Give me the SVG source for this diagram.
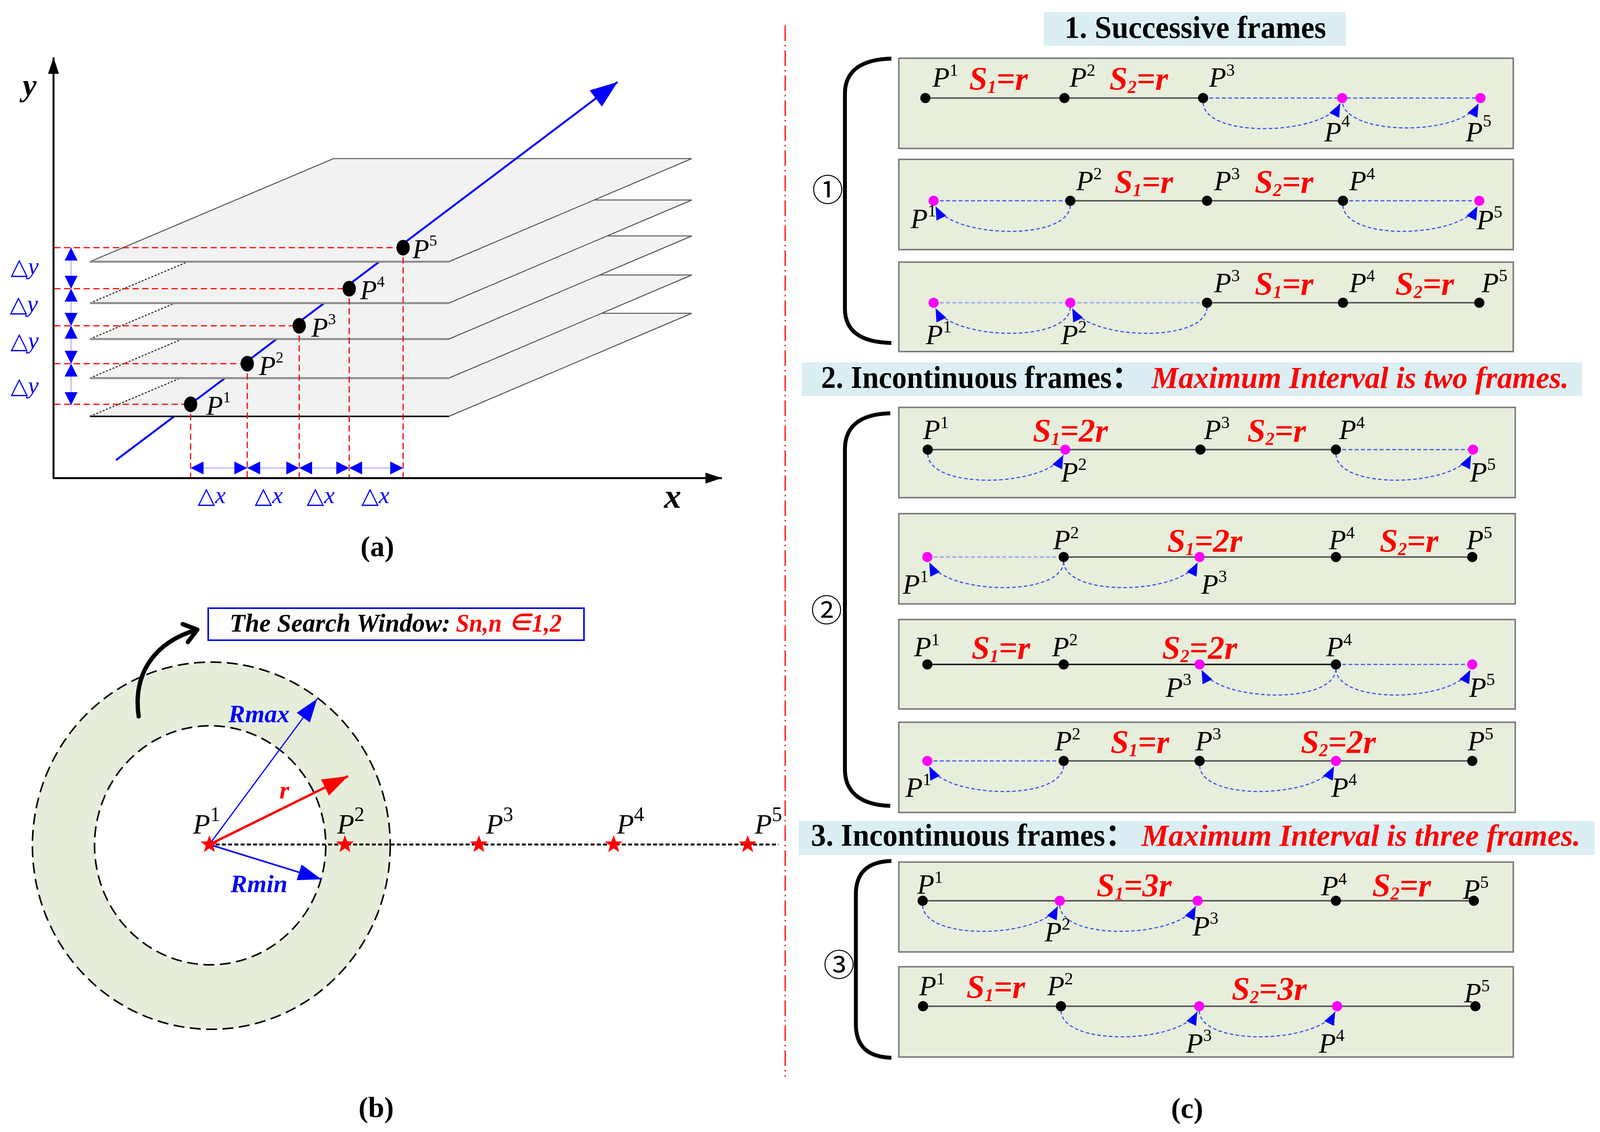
<svg xmlns="http://www.w3.org/2000/svg" width="4098" height="2898" viewBox="0 0 4098 2898">
<style>
text{font-family:"Liberation Serif","Noto Sans CJK SC",serif}
.plane{fill:#f2f2f2;stroke:none}
.pedge{stroke:#555;stroke-width:2.5;fill:none}
.pleft{stroke:#333;stroke-width:3;stroke-dasharray:5 4;fill:none}
.pfront{stroke:#8c8c8c;stroke-width:5}
.bl{stroke:#0000ff;stroke-width:5;fill:none}
.rd{stroke:#ff0000;stroke-width:3;stroke-dasharray:16 9;fill:none}
.dd{stroke:#c4c4ff;stroke-width:4;marker-start:url(#bh);marker-end:url(#bh)}
.dl{fill:#0000ff;font-style:italic;font-size:62px}
.tri{font-family:"DejaVu Sans",sans-serif;font-size:58px;font-style:italic}
.pa{font-style:italic;font-size:70px}
.supa{font-style:normal;font-size:40px}
.pl{font-style:italic;font-size:72px}
.sup{font-style:normal;font-size:44px}
.supb{font-style:normal;font-size:52px}
.sl{font-style:italic;font-weight:bold;font-size:84px;fill:#ff0000}
.box{fill:#e8eedc;stroke:#7f7f7f;stroke-width:4}
.hdr{fill:#daeef3}
.ln{stroke:#5a5a5a;stroke-width:4}
.ln2{stroke:#222;stroke-width:4}
.bd{stroke:#3a55ff;stroke-width:3;stroke-dasharray:10 6;fill:none}
.bdl{stroke:#9fb0f0;stroke-width:4;stroke-dasharray:10 6;fill:none}
.arc{stroke:#3a55ee;stroke-width:3;stroke-dasharray:9 6;fill:none;marker-end:url(#ah)}
.dk{fill:#000}
.mg{fill:#ff00ff}
.brk{stroke:#000;stroke-width:10;fill:none}
.cn{font-family:"Noto Sans CJK SC","DejaVu Sans",sans-serif;font-size:80px}
.ttl{font-weight:bold;font-size:80px}
.tred{font-weight:bold;font-style:italic;font-size:78px;fill:#ff0000}
.cap{font-weight:bold;font-size:74px}
</style>
<defs>
<marker id="ah" viewBox="0 0 34 28" refX="34" refY="14" markerWidth="34" markerHeight="28" markerUnits="userSpaceOnUse" orient="auto"><path d="M0,0 L34,14 L0,28 z" fill="#0000ff"/></marker>
<marker id="bh" viewBox="0 0 33 33" refX="33" refY="16.5" markerWidth="33" markerHeight="33" markerUnits="userSpaceOnUse" orient="auto-start-reverse"><path d="M0,0 L33,16.5 L0,33 z" fill="#0000ff"/></marker>
<marker id="bm" viewBox="0 0 70 52" refX="70" refY="26" markerWidth="70" markerHeight="52" markerUnits="userSpaceOnUse" orient="auto"><path d="M0,0 L70,26 L0,52 z" fill="#0000ff"/></marker>
<marker id="ak" viewBox="0 0 42 28" refX="42" refY="14" markerWidth="42" markerHeight="28" markerUnits="userSpaceOnUse" orient="auto"><path d="M0,0 L42,14 L0,28 z" fill="#000"/></marker>
<marker id="bb" viewBox="0 0 60 42" refX="60" refY="21" markerWidth="60" markerHeight="42" markerUnits="userSpaceOnUse" orient="auto"><path d="M0,0 L60,21 L0,42 z" fill="#0000ff"/></marker>
<marker id="rb" viewBox="0 0 66 46" refX="66" refY="23" markerWidth="66" markerHeight="46" markerUnits="userSpaceOnUse" orient="auto"><path d="M0,0 L66,23 L0,46 z" fill="#ff0000"/></marker>
<marker id="chev" viewBox="-40 -30 46 60" refX="0" refY="0" markerWidth="46" markerHeight="60" markerUnits="userSpaceOnUse" orient="auto"><path d="M-32,-24 L0,0 L-32,24" fill="none" stroke="#000" stroke-width="11" stroke-linecap="round" stroke-linejoin="round"/></marker>
<polygon id="star" points="0,-24 5.8,-7.9 22.8,-7.4 9.3,3 14.1,19.4 0,9.8 -14.1,19.4 -9.3,3 -22.8,-7.4 -5.8,-7.9" fill="#ff0000"/>
</defs>
<rect width="4098" height="2898" fill="#fff"/>

<!-- ============ Panel (a) ============ -->
<g id="panel-a">
 <g id="axes">
  <line x1="137" y1="1224" x2="137" y2="147" stroke="#000" stroke-width="5" marker-end="url(#ak)"/>
  <line x1="135" y1="1224" x2="1848" y2="1224" stroke="#000" stroke-width="5" marker-end="url(#ak)"/>
  <text x="58" y="245" font-style="italic" font-weight="bold" font-size="80">y</text>
  <text x="1700" y="1300" font-style="italic" font-weight="bold" font-size="88">x</text>
 </g>
 <g id="planes">
  <line class="bl" x1="297" y1="1178" x2="446" y2="1066"/>
  <g id="plane-5"><polygon class="plane" points="230,1066 1149,1066 1771,802 854,802"/><polyline class="pedge" points="1149,1066 1771,802 854,802"/><line class="pleft" x1="230" y1="1066" x2="854" y2="802"/><line x1="230" y1="1066" x2="1149" y2="1066" stroke="#000" stroke-width="4"/></g>
  <line class="bl" x1="488" y1="1034" x2="576" y2="968"/>
  <g id="plane-4"><polygon class="plane" points="230,968 1149,968 1771,704 854,704"/><polyline class="pedge" points="1149,968 1771,704 854,704"/><line class="pleft" x1="230" y1="968" x2="854" y2="704"/><line class="pfront" x1="230" y1="968" x2="1149" y2="968"/></g>
  <line class="bl" x1="633" y1="925" x2="708" y2="868"/>
  <g id="plane-3"><polygon class="plane" points="230,868 1149,868 1771,604 854,604"/><polyline class="pedge" points="1149,868 1771,604 854,604"/><line class="pleft" x1="230" y1="868" x2="854" y2="604"/><line class="pfront" x1="230" y1="868" x2="1149" y2="868"/></g>
  <line class="bl" x1="766" y1="824" x2="830" y2="776"/>
  <g id="plane-2"><polygon class="plane" points="230,776 1149,776 1771,512 854,512"/><polyline class="pedge" points="1149,776 1771,512 854,512"/><line class="pleft" x1="230" y1="776" x2="854" y2="512"/><line class="pfront" x1="230" y1="776" x2="1149" y2="776"/></g>
  <line class="bl" x1="894" y1="728" x2="971" y2="670"/>
  <g id="plane-1"><polygon class="plane" points="230,670 1149,670 1771,406 854,406"/><polyline class="pedge" points="1149,670 1771,406 854,406 230,670"/><line class="pfront" x1="230" y1="670" x2="1149" y2="670"/></g>
  <line class="bl" x1="1032" y1="624" x2="1581" y2="210" marker-end="url(#bm)"/>
 </g>
 <g id="projections">
  <line class="rd" x1="139" y1="1035" x2="488" y2="1035"/>
  <line class="rd" x1="139" y1="931" x2="633" y2="931"/>
  <line class="rd" x1="139" y1="834" x2="766" y2="834"/>
  <line class="rd" x1="139" y1="739" x2="894" y2="739"/>
  <line class="rd" x1="139" y1="634" x2="1032" y2="634"/>
  <line class="rd" x1="488" y1="1035" x2="488" y2="1222"/>
  <line class="rd" x1="633" y1="931" x2="633" y2="1222"/>
  <line class="rd" x1="766" y1="834" x2="766" y2="1222"/>
  <line class="rd" x1="894" y1="739" x2="894" y2="1222"/>
  <line class="rd" x1="1032" y1="634" x2="1032" y2="1222"/>
 </g>
 <g id="dy-arrows">
  <line class="dd" x1="182" y1="634" x2="182" y2="739"/>
  <line class="dd" x1="182" y1="739" x2="182" y2="834"/>
  <line class="dd" x1="182" y1="834" x2="182" y2="931"/>
  <line class="dd" x1="182" y1="931" x2="182" y2="1037"/>
  <text class="dl" x="27" y="702"><tspan class="tri">△</tspan>y</text>
  <text class="dl" x="25" y="798"><tspan class="tri">△</tspan>y</text>
  <text class="dl" x="27" y="892"><tspan class="tri">△</tspan>y</text>
  <text class="dl" x="27" y="1007"><tspan class="tri">△</tspan>y</text>
 </g>
 <g id="dx-arrows">
  <line class="dd" x1="488" y1="1198" x2="633" y2="1198"/>
  <line class="dd" x1="633" y1="1198" x2="766" y2="1198"/>
  <line class="dd" x1="766" y1="1198" x2="894" y2="1198"/>
  <line class="dd" x1="894" y1="1198" x2="1032" y2="1198"/>
  <text class="dl" x="506" y="1288"><tspan class="tri">△</tspan>x</text>
  <text class="dl" x="652" y="1288"><tspan class="tri">△</tspan>x</text>
  <text class="dl" x="785" y="1288"><tspan class="tri">△</tspan>x</text>
  <text class="dl" x="925" y="1288"><tspan class="tri">△</tspan>x</text>
 </g>
 <g id="points-a">
  <ellipse cx="488" cy="1035" rx="17" ry="20"/>
  <ellipse cx="633" cy="931" rx="17" ry="20"/>
  <ellipse cx="766" cy="834" rx="17" ry="20"/>
  <ellipse cx="894" cy="739" rx="17" ry="20"/>
  <ellipse cx="1032" cy="634" rx="17" ry="20"/>
  <text class="pa" x="528" y="1062">P<tspan class="supa" dy="-32">1</tspan></text>
  <text class="pa" x="663" y="960">P<tspan class="supa" dy="-32">2</tspan></text>
  <text class="pa" x="797" y="862">P<tspan class="supa" dy="-32">3</tspan></text>
  <text class="pa" x="922" y="766">P<tspan class="supa" dy="-32">4</tspan></text>
  <text class="pa" x="1056" y="661">P<tspan class="supa" dy="-32">5</tspan></text>
 </g>
 <text class="cap" x="966" y="1424" text-anchor="middle">(a)</text>
</g>

<!-- ============ Panel (b) ============ -->
<g id="panel-b">
 <g id="search-ring">
  <ellipse cx="541" cy="2165" rx="458" ry="470" fill="#e6edda" stroke="#000" stroke-width="4" stroke-dasharray="28 14"/>
  <ellipse cx="538" cy="2164" rx="296" ry="306" fill="#fff" stroke="#000" stroke-width="4" stroke-dasharray="28 14"/>
 </g>
 <line x1="536" y1="2162" x2="1993" y2="2162" stroke="#000" stroke-width="5" stroke-dasharray="10 6"/>
 <g id="radii">
  <line x1="536" y1="2162" x2="812" y2="1789" stroke="#0000ff" stroke-width="3" marker-end="url(#bb)"/>
  <line x1="536" y1="2162" x2="891" y2="1987" stroke="#ff0000" stroke-width="6" marker-end="url(#rb)"/>
  <line x1="536" y1="2162" x2="823" y2="2251" stroke="#0000ff" stroke-width="4" marker-end="url(#bb)"/>
  <text x="663" y="1849" text-anchor="middle" font-style="italic" font-weight="bold" font-size="64" fill="#0000ff">Rmax</text>
  <text x="728" y="2044" text-anchor="middle" font-style="italic" font-weight="bold" font-size="64" fill="#ff0000">r</text>
  <text x="663" y="2284" text-anchor="middle" font-style="italic" font-weight="bold" font-size="64" fill="#0000ff">Rmin</text>
 </g>
 <g id="stars">
  <use href="#star" x="536" y="2162"/>
  <use href="#star" x="883" y="2162"/>
  <use href="#star" x="1226" y="2162"/>
  <use href="#star" x="1571" y="2162"/>
  <use href="#star" x="1914" y="2162"/>
  <text class="pl" x="494" y="2134">P<tspan class="supb" dy="-32">1</tspan></text>
  <text class="pl" x="863" y="2134">P<tspan class="supb" dy="-32">2</tspan></text>
  <text class="pl" x="1244" y="2134">P<tspan class="supb" dy="-32">3</tspan></text>
  <text class="pl" x="1579" y="2134">P<tspan class="supb" dy="-32">4</tspan></text>
  <text class="pl" x="1932" y="2134">P<tspan class="supb" dy="-32">5</tspan></text>
 </g>
 <path d="M355,1834 C340,1730 390,1645 505,1612" stroke="#000" stroke-width="11" fill="none" stroke-linecap="round" marker-end="url(#chev)"/>
 <g id="search-window">
  <rect x="533" y="1557" width="962" height="82" fill="#fff" stroke="#0000ff" stroke-width="4"/>
  <text x="588" y="1617" font-style="italic" font-weight="bold" font-size="66" textLength="565" lengthAdjust="spacingAndGlyphs">The Search Window: </text>
  <text x="1167" y="1617" font-style="italic" font-weight="bold" font-size="66" fill="#ff0000" textLength="271" lengthAdjust="spacingAndGlyphs">Sn,n ∈1,2</text>
 </g>
 <text class="cap" x="963" y="2860" text-anchor="middle">(b)</text>
</g>

<line id="separator" x1="2010" y1="65" x2="2010" y2="2757" stroke="#ff0000" stroke-width="3" stroke-dasharray="40 10 4 10"/>

<!-- ============ Panel (c) ============ -->
<g id="panel-c">
 <g id="hdr-1">
  <rect class="hdr" x="2672" y="31" width="773" height="86"/>
  <text class="ttl" x="3060" y="97" text-anchor="middle" textLength="670" lengthAdjust="spacingAndGlyphs">1. Successive frames</text>
 </g>
 <g id="brace-1">
  <path class="brk" d="M2282,150 C2200,152 2163,185 2163,240 L2163,790 C2163,845 2200,876 2282,878"/>
  <text class="cn" x="2119" y="480" text-anchor="middle" dominant-baseline="central">①</text>
 </g>
 <!-- S1 box1 -->
 <g id="s1-b1">
  <rect class="box" x="2301" y="149" width="1573" height="231"/>
  <line class="ln" x1="2369" y1="251" x2="3080" y2="251"/>
  <line class="bd" x1="3080" y1="251" x2="3790" y2="251"/>
  <path class="arc" d="M3080,263 C3085,356 3390,346 3431,265"/>
  <path class="arc" d="M3437,266 C3460,350 3744,346 3785,265"/>
  <circle class="dk" cx="2369" cy="251" r="13"/><circle class="dk" cx="2725" cy="251" r="13"/><circle class="dk" cx="3080" cy="251" r="13"/>
  <circle class="mg" cx="3436" cy="251" r="13"/><circle class="mg" cx="3790" cy="251" r="13"/>
  <text class="pl" x="2387" y="222">P<tspan class="sup" dy="-28">1</tspan></text>
  <text class="sl" x="2481" y="230">S<tspan font-size="46" dy="8">1</tspan><tspan dy="-8">=r</tspan></text>
  <text class="pl" x="2738" y="222">P<tspan class="sup" dy="-28">2</tspan></text>
  <text class="sl" x="2840" y="230">S<tspan font-size="46" dy="8">2</tspan><tspan dy="-8">=r</tspan></text>
  <text class="pl" x="3095" y="222">P<tspan class="sup" dy="-28">3</tspan></text>
  <text class="pl" x="3390" y="362">P<tspan class="sup" dy="-38">4</tspan></text>
  <text class="pl" x="3752" y="362">P<tspan class="sup" dy="-38">5</tspan></text>
 </g>
 <!-- S1 box2 -->
 <g id="s1-b2">
  <rect class="box" x="2301" y="408" width="1573" height="231"/>
  <line class="ln" x1="2740" y1="514" x2="3438" y2="514"/>
  <line class="bd" x1="2390" y1="514" x2="2740" y2="514"/>
  <line class="bd" x1="3438" y1="514" x2="3787" y2="514"/>
  <path class="arc" d="M2740,526 C2735,619 2435,609 2395,528"/>
  <path class="arc" d="M3438,526 C3443,619 3741,609 3782,528"/>
  <circle class="mg" cx="2390" cy="514" r="13"/><circle class="dk" cx="2740" cy="514" r="13"/><circle class="dk" cx="3090" cy="514" r="13"/><circle class="dk" cx="3438" cy="514" r="13"/><circle class="mg" cx="3787" cy="514" r="13"/>
  <text class="pl" x="2331" y="584">P<tspan class="sup" dy="-30">1</tspan></text>
  <text class="pl" x="2755" y="487">P<tspan class="sup" dy="-28">2</tspan></text>
  <text class="sl" x="2853" y="494">S<tspan font-size="46" dy="8">1</tspan><tspan dy="-8">=r</tspan></text>
  <text class="pl" x="3108" y="487">P<tspan class="sup" dy="-28">3</tspan></text>
  <text class="sl" x="3212" y="494">S<tspan font-size="46" dy="8">2</tspan><tspan dy="-8">=r</tspan></text>
  <text class="pl" x="3454" y="487">P<tspan class="sup" dy="-28">4</tspan></text>
  <text class="pl" x="3780" y="587">P<tspan class="sup" dy="-30">5</tspan></text>
 </g>
 <!-- S1 box3 -->
 <g id="s1-b3">
  <rect class="box" x="2301" y="671" width="1573" height="229"/>
  <line class="ln" x1="3090" y1="775" x2="3787" y2="775"/>
  <line class="bdl" x1="2390" y1="775" x2="3090" y2="775"/>
  <path class="arc" d="M3090,787 C3085,880 2785,870 2745,789"/>
  <path class="arc" d="M2740,787 C2735,880 2435,870 2395,789"/>
  <circle class="mg" cx="2390" cy="775" r="13"/><circle class="mg" cx="2740" cy="775" r="13"/><circle class="dk" cx="3090" cy="775" r="13"/><circle class="dk" cx="3438" cy="775" r="13"/><circle class="dk" cx="3787" cy="775" r="13"/>
  <text class="pl" x="2370" y="881">P<tspan class="sup" dy="-30">1</tspan></text>
  <text class="pl" x="2716" y="881">P<tspan class="sup" dy="-30">2</tspan></text>
  <text class="pl" x="3108" y="748">P<tspan class="sup" dy="-28">3</tspan></text>
  <text class="sl" x="3212" y="755">S<tspan font-size="46" dy="8">1</tspan><tspan dy="-8">=r</tspan></text>
  <text class="pl" x="3454" y="748">P<tspan class="sup" dy="-28">4</tspan></text>
  <text class="sl" x="3572" y="755">S<tspan font-size="46" dy="8">2</tspan><tspan dy="-8">=r</tspan></text>
  <text class="pl" x="3793" y="748">P<tspan class="sup" dy="-28">5</tspan></text>
 </g>

 <g id="hdr-2">
  <rect class="hdr" x="2052" y="928" width="1998" height="86"/>
  <text class="ttl" x="2102" y="993" textLength="820" lengthAdjust="spacingAndGlyphs">2. Incontinuous frames：</text>
  <text class="tred" x="2948" y="993" textLength="1068" lengthAdjust="spacingAndGlyphs">Maximum Interval is two frames.</text>
 </g>
 <g id="brace-2">
  <path class="brk" d="M2279,1058 C2200,1060 2163,1093 2163,1150 L2163,1970 C2163,2025 2200,2061 2279,2063"/>
  <text class="cn" x="2116" y="1556" text-anchor="middle" dominant-baseline="central">②</text>
 </g>
 <!-- S2 box1 -->
 <g id="s2-b1">
  <rect class="box" x="2301" y="1043" width="1578" height="231"/>
  <line class="ln" x1="2375" y1="1151" x2="3420" y2="1151"/>
  <line class="bd" x1="3420" y1="1151" x2="3771" y2="1151"/>
  <path class="arc" d="M2375,1163 C2380,1256 2681,1246 2722,1165"/>
  <path class="arc" d="M3420,1163 C3425,1256 3725,1246 3766,1165"/>
  <circle class="dk" cx="2375" cy="1151" r="13"/><circle class="mg" cx="2727" cy="1151" r="13"/><circle class="dk" cx="3073" cy="1151" r="13"/><circle class="dk" cx="3420" cy="1151" r="13"/><circle class="mg" cx="3771" cy="1151" r="13"/>
  <text class="pl" x="2363" y="1124">P<tspan class="sup" dy="-28">1</tspan></text>
  <text class="sl" x="2644" y="1131">S<tspan font-size="46" dy="8">1</tspan><tspan dy="-8">=2r</tspan></text>
  <text class="pl" x="2716" y="1233">P<tspan class="sup" dy="-30">2</tspan></text>
  <text class="pl" x="3082" y="1124">P<tspan class="sup" dy="-28">3</tspan></text>
  <text class="sl" x="3193" y="1131">S<tspan font-size="46" dy="8">2</tspan><tspan dy="-8">=r</tspan></text>
  <text class="pl" x="3428" y="1124">P<tspan class="sup" dy="-28">4</tspan></text>
  <text class="pl" x="3763" y="1233">P<tspan class="sup" dy="-30">5</tspan></text>
 </g>
 <!-- S2 box2 -->
 <g id="s2-b2">
  <rect class="box" x="2301" y="1315" width="1578" height="231"/>
  <line class="ln" x1="2723" y1="1426" x2="3769" y2="1426"/>
  <line class="bdl" x1="2374" y1="1426" x2="2723" y2="1426"/>
  <path class="arc" d="M2723,1438 C2718,1531 2419,1521 2379,1440"/>
  <path class="arc" d="M2723,1438 C2728,1531 3025,1521 3066,1440"/>
  <circle class="mg" cx="2374" cy="1426" r="13"/><circle class="dk" cx="2723" cy="1426" r="13"/><circle class="mg" cx="3071" cy="1426" r="13"/><circle class="dk" cx="3420" cy="1426" r="13"/><circle class="dk" cx="3769" cy="1426" r="13"/>
  <text class="pl" x="2311" y="1520">P<tspan class="sup" dy="-30">1</tspan></text>
  <text class="pl" x="2696" y="1406">P<tspan class="sup" dy="-28">2</tspan></text>
  <text class="sl" x="2988" y="1413">S<tspan font-size="46" dy="8">1</tspan><tspan dy="-8">=2r</tspan></text>
  <text class="pl" x="3075" y="1520">P<tspan class="sup" dy="-30">3</tspan></text>
  <text class="pl" x="3402" y="1406">P<tspan class="sup" dy="-28">4</tspan></text>
  <text class="sl" x="3532" y="1413">S<tspan font-size="46" dy="8">2</tspan><tspan dy="-8">=r</tspan></text>
  <text class="pl" x="3754" y="1406">P<tspan class="sup" dy="-28">5</tspan></text>
 </g>
 <!-- S2 box3 -->
 <g id="s2-b3">
  <rect class="box" x="2301" y="1586" width="1578" height="229"/>
  <line class="ln2" x1="2374" y1="1701" x2="3420" y2="1701"/>
  <line class="bd" x1="3420" y1="1701" x2="3769" y2="1701"/>
  <path class="arc" d="M3420,1713 C3415,1806 3116,1796 3076,1715"/>
  <path class="arc" d="M3420,1713 C3425,1806 3723,1796 3764,1715"/>
  <circle class="dk" cx="2374" cy="1701" r="13"/><circle class="dk" cx="2723" cy="1701" r="13"/><circle class="mg" cx="3071" cy="1701" r="13"/><circle class="dk" cx="3420" cy="1701" r="13"/><circle class="mg" cx="3769" cy="1701" r="13"/>
  <text class="pl" x="2340" y="1680">P<tspan class="sup" dy="-28">1</tspan></text>
  <text class="sl" x="2487" y="1687">S<tspan font-size="46" dy="8">1</tspan><tspan dy="-8">=r</tspan></text>
  <text class="pl" x="2693" y="1680">P<tspan class="sup" dy="-28">2</tspan></text>
  <text class="sl" x="2975" y="1687">S<tspan font-size="46" dy="8">2</tspan><tspan dy="-8">=2r</tspan></text>
  <text class="pl" x="2984" y="1784">P<tspan class="sup" dy="-30">3</tspan></text>
  <text class="pl" x="3395" y="1680">P<tspan class="sup" dy="-28">4</tspan></text>
  <text class="pl" x="3761" y="1784">P<tspan class="sup" dy="-30">5</tspan></text>
 </g>
 <!-- S2 box4 -->
 <g id="s2-b4">
  <rect class="box" x="2301" y="1849" width="1578" height="231"/>
  <line class="ln" x1="2723" y1="1948" x2="3769" y2="1948"/>
  <line class="bd" x1="2374" y1="1948" x2="2723" y2="1948"/>
  <path class="arc" d="M2723,1960 C2718,2053 2419,2043 2379,1962"/>
  <path class="arc" d="M3071,1960 C3076,2053 3374,2043 3415,1962"/>
  <circle class="mg" cx="2374" cy="1948" r="13"/><circle class="dk" cx="2723" cy="1948" r="13"/><circle class="dk" cx="3071" cy="1948" r="13"/><circle class="mg" cx="3420" cy="1948" r="13"/><circle class="dk" cx="3769" cy="1948" r="13"/>
  <text class="pl" x="2318" y="2040">P<tspan class="sup" dy="-30">1</tspan></text>
  <text class="pl" x="2700" y="1921">P<tspan class="sup" dy="-28">2</tspan></text>
  <text class="sl" x="2843" y="1928">S<tspan font-size="46" dy="8">1</tspan><tspan dy="-8">=r</tspan></text>
  <text class="pl" x="3060" y="1921">P<tspan class="sup" dy="-28">3</tspan></text>
  <text class="sl" x="3330" y="1928">S<tspan font-size="46" dy="8">2</tspan><tspan dy="-8">=2r</tspan></text>
  <text class="pl" x="3408" y="2040">P<tspan class="sup" dy="-30">4</tspan></text>
  <text class="pl" x="3757" y="1921">P<tspan class="sup" dy="-28">5</tspan></text>
 </g>

 <g id="hdr-3">
  <rect class="hdr" x="2045" y="2102" width="2037" height="87"/>
  <text class="ttl" x="2076" y="2165" textLength="830" lengthAdjust="spacingAndGlyphs">3. Incontinuous frames：</text>
  <text class="tred" x="2922" y="2165" textLength="1124" lengthAdjust="spacingAndGlyphs">Maximum Interval is three frames.</text>
 </g>
 <g id="brace-3">
  <path class="brk" d="M2282,2204 C2220,2206 2191,2235 2191,2290 L2191,2622 C2191,2677 2220,2706 2282,2708"/>
  <text class="cn" x="2148" y="2464" text-anchor="middle" dominant-baseline="central">③</text>
 </g>
 <!-- S3 box1 -->
 <g id="s3-b1">
  <rect class="box" x="2301" y="2207" width="1573" height="230" stroke="#333"/>
  <line class="ln" x1="2362" y1="2306" x2="3773" y2="2306" stroke="#404040"/>
  <path class="arc" d="M2362,2318 C2367,2411 2667,2401 2708,2320"/>
  <path class="arc" d="M2713,2318 C2718,2411 3020,2401 3061,2320"/>
  <circle class="dk" cx="2362" cy="2306" r="13"/><circle class="mg" cx="2713" cy="2306" r="13"/><circle class="mg" cx="3066" cy="2306" r="13"/><circle class="dk" cx="3420" cy="2306" r="13"/><circle class="dk" cx="3773" cy="2306" r="13"/>
  <text class="pl" x="2348" y="2288">P<tspan class="sup" dy="-28">1</tspan></text>
  <text class="sl" x="2807" y="2295">S<tspan font-size="46" dy="8">1</tspan><tspan dy="-8">=3r</tspan></text>
  <text class="pl" x="2674" y="2410">P<tspan class="sup" dy="-30">2</tspan></text>
  <text class="pl" x="3053" y="2395">P<tspan class="sup" dy="-30">3</tspan></text>
  <text class="pl" x="3382" y="2292">P<tspan class="sup" dy="-28">4</tspan></text>
  <text class="sl" x="3513" y="2295">S<tspan font-size="46" dy="8">2</tspan><tspan dy="-8">=r</tspan></text>
  <text class="pl" x="3745" y="2301">P<tspan class="sup" dy="-28">5</tspan></text>
 </g>
 <!-- S3 box2 -->
 <g id="s3-b2">
  <rect class="box" x="2301" y="2475" width="1573" height="231"/>
  <line class="ln" x1="2363" y1="2576" x2="3777" y2="2576" stroke="#404040"/>
  <path class="arc" d="M2716,2588 C2721,2681 3024,2671 3065,2590"/>
  <path class="arc" d="M3070,2588 C3075,2681 3377,2671 3418,2590"/>
  <circle class="dk" cx="2363" cy="2576" r="13"/><circle class="dk" cx="2716" cy="2576" r="13"/><circle class="mg" cx="3070" cy="2576" r="13"/><circle class="mg" cx="3423" cy="2576" r="13"/><circle class="dk" cx="3777" cy="2576" r="13"/>
  <text class="pl" x="2353" y="2548">P<tspan class="sup" dy="-28">1</tspan></text>
  <text class="sl" x="2474" y="2555">S<tspan font-size="46" dy="8">1</tspan><tspan dy="-8">=r</tspan></text>
  <text class="pl" x="2681" y="2548">P<tspan class="sup" dy="-28">2</tspan></text>
  <text class="sl" x="3153" y="2560">S<tspan font-size="46" dy="8">2</tspan><tspan dy="-8">=3r</tspan></text>
  <text class="pl" x="3036" y="2695">P<tspan class="sup" dy="-30">3</tspan></text>
  <text class="pl" x="3376" y="2695">P<tspan class="sup" dy="-30">4</tspan></text>
  <text class="pl" x="3748" y="2566">P<tspan class="sup" dy="-28">5</tspan></text>
 </g>
 <text class="cap" x="3039" y="2862" text-anchor="middle">(c)</text>
</g>
</svg>
